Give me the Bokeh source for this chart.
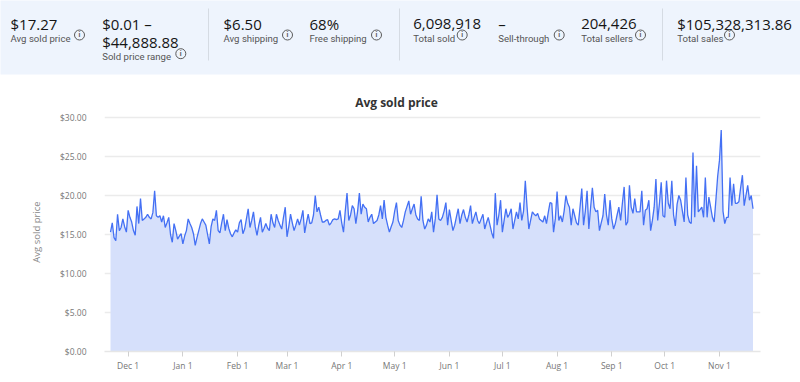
import pandas as pd
from bokeh.plotting import figure
from bokeh.models import ColumnDataSource, Range1d, FixedTicker, NumeralTickFormatter
from bokeh.layouts import column
from bokeh.embed import file_html
from bokeh.resources import INLINE
from bokeh.core.properties import value

# ---------------- data ----------------
start_date = "2022-11-21"

prices_nov_jan = [15.3, 16.5, 14.6, 14.2, 17.6, 15.5, 15.9, 17.0, 16.0, 15.3,
                  18.1, 17.2, 16.6, 15.5, 14.9, 18.6, 16.4, 19.6, 16.8, 17.0,
                  17.2, 17.6, 17.2, 17.0, 17.8, 20.6, 17.4, 17.2, 17.4, 16.6,
                  17.4, 15.9, 16.5, 17.2, 15.0, 14.0, 16.4, 15.5, 14.4, 14.8,
                  15.1, 13.8, 14.8, 15.5, 17.0, 16.4, 15.9, 15.1, 13.6, 14.6,
                  15.5, 16.4, 17.0, 16.6, 16.2, 15.0, 13.8, 16.0, 17.0, 16.8]
prices_jan_mar = [18.1, 15.5, 15.2, 16.5, 17.6, 15.5, 16.9, 15.8, 15.1, 14.7,
                  15.2, 15.6, 15.3, 16.5, 16.9, 15.1, 15.7, 17.0, 18.3, 15.9,
                  16.8, 17.9, 16.0, 14.9, 16.2, 17.2, 15.3, 15.8, 16.4, 15.8,
                  15.5, 17.6, 16.5, 15.9, 17.6, 16.8, 16.2, 15.7, 17.2, 18.5,
                  14.7, 16.0, 17.6, 16.5, 15.5, 16.2, 17.0, 16.2, 17.0, 18.1,
                  15.2, 16.5, 17.6, 16.4, 16.5, 17.5, 20.0, 17.9, 18.5, 17.5,
                  16.6]
prices_mar_may = [16.6, 16.8, 16.9, 16.2, 16.5, 16.9, 17.0, 16.9, 17.0, 18.1,
                  16.5, 15.3, 18.0, 20.3, 16.8, 17.5, 18.7, 18.3, 16.4, 18.0,
                  20.3, 17.6, 18.9, 18.5, 18.3, 16.6, 17.2, 17.6, 16.4, 16.6,
                  16.8, 17.5, 18.7, 17.0, 19.4, 17.2, 16.2, 15.3, 16.0, 16.6,
                  18.0, 19.1, 16.8, 16.2, 15.9, 16.8, 17.9, 18.6, 19.3, 17.6,
                  18.3, 18.9, 17.5, 17.0, 16.8, 19.9, 16.8, 15.7, 16.2, 17.0,
                  16.6]
prices_may_jul = [17.9, 15.3, 17.0, 20.1, 17.0, 16.8, 17.2, 18.0, 19.1, 16.2,
                  18.2, 16.8, 15.5, 16.2, 17.3, 18.3, 16.4, 17.5, 18.2, 17.2,
                  16.6, 17.5, 18.7, 16.4, 17.2, 17.9, 16.8, 16.4, 17.0, 17.6,
                  15.7, 16.5, 17.2, 16.2, 15.2, 14.5, 20.3, 16.2, 17.5, 19.4,
                  15.3, 16.8, 18.3, 17.2, 17.6, 18.3, 15.7, 16.8, 17.9, 17.0,
                  19.1, 16.8, 18.0, 21.9, 18.5, 15.7, 16.8, 17.9, 17.6, 17.4,
                  17.7]
prices_jul_sep = [17.0, 16.8, 16.6, 17.4, 16.4, 17.8, 19.1, 19.0, 15.3, 17.0,
                  20.5, 16.8, 17.4, 16.6, 18.0, 20.0, 19.0, 18.5, 16.2, 18.3,
                  17.4, 16.5, 16.2, 18.5, 20.9, 16.2, 18.0, 20.6, 15.7, 18.5,
                  21.0, 18.5, 17.9, 18.1, 15.5, 16.5, 17.4, 20.2, 17.5, 16.2,
                  19.4, 17.0, 15.7, 16.4, 17.5, 18.5, 16.8, 19.0, 21.1, 16.2,
                  16.6, 21.3, 18.5, 17.7, 19.6, 17.9, 17.9, 17.9, 20.6, 16.2,
                  18.1]
prices_sep_nov = [18.3, 19.4, 15.5, 16.8, 18.5, 22.1, 16.8, 19.0, 21.7, 17.4,
                  17.2, 21.9, 19.0, 18.3, 21.9, 17.5, 16.1, 18.9, 20.0, 19.4,
                  18.0, 16.6, 22.3, 17.5, 16.6, 16.4, 25.5, 17.2, 23.8, 17.9,
                  18.2, 18.5, 17.2, 22.3, 17.2, 19.8, 18.5, 17.2, 16.6, 19.5,
                  22.5, 24.5, 28.4, 18.0, 16.4, 17.2, 17.2, 22.3, 18.7, 21.5,
                  19.0, 19.0, 19.2, 21.0, 22.6, 18.7, 20.0, 21.3, 19.4, 20.0,
                  18.3]

month_tick_dates = ["2022-12-01", "2023-01-01", "2023-02-01", "2023-03-01", "2023-04-01",
                    "2023-05-01", "2023-06-01", "2023-07-01", "2023-08-01", "2023-09-01",
                    "2023-10-01", "2023-11-01"]
month_tick_labels = ["Dec 1", "Jan 1", "Feb 1", "Mar 1", "Apr 1", "May 1",
                     "Jun 1", "Jul 1", "Aug 1", "Sep 1", "Oct 1", "Nov 1"]
price_ticks = [0, 5, 10, 15, 20, 25, 30]

stat_value_lines = [["$17.27"], ["$0.01 –", "$44,888.88"], ["$6.50"], ["68%"],
                    ["6,098,918"], ["–"], ["204,426"], ["$105,328,313.86"]]
stat_labels = ["Avg sold price", "Sold price range", "Avg shipping", "Free shipping",
               "Total sold", "Sell-through", "Total sellers", "Total sales"]
chart_title = "Avg sold price"
y_axis_title = "Avg sold price"

# ---------------- layout (positions / styles) ----------------
W, H_HEAD, H_CHART = 800, 111, 271
col_x = [10, 101.7, 223, 309, 412.7, 497.7, 580.7, 676.7]
icon_x = [79, 180.3, 287, 376, 461.7, 558.7, 640, 729]
sep_x = [208, 399, 662]
VAL_FONT = value("Open Sans")
LAB_FONT = value("Roboto")

prices = (prices_nov_jan + prices_jan_mar + prices_mar_may +
          prices_may_jul + prices_jul_sep + prices_sep_nov)
t0 = pd.Timestamp(start_date)
days = list(range(len(prices)))
src = ColumnDataSource(dict(day=days, price=prices))
tick_days = [(pd.Timestamp(d) - t0).days for d in month_tick_dates]

# ---------------- header figure ----------------
h = figure(width=W, height=H_HEAD, x_range=Range1d(0, W), y_range=Range1d(H_HEAD, 0),
           x_axis_type=None, y_axis_type=None, output_backend="svg",
           toolbar_location=None, min_border=0, frame_align=False)
h.outline_line_color = None
h.grid.visible = False
h.quad(left=-10, right=W + 10, top=-2, bottom=74, fill_color="#eef4fd", line_color=None)
h.segment(x0=sep_x, y0=[8] * 3, x1=sep_x, y1=[60] * 3, line_color="#d5dbe3", line_width=1)

vx, vy, vt = [], [], []
lx, ly, lt = [], [], []
ix, iy = [], []
for i, lines in enumerate(stat_value_lines):
    for k, s in enumerate(lines):
        vx.append(col_x[i]); vy.append(23 + 18.7 * k); vt.append(s)
    base = 23 + 18.7 * (len(lines) - 1) + 14.7
    lx.append(col_x[i]); ly.append(base); lt.append(stat_labels[i])
    ix.append(icon_x[i]); iy.append(base - 3.2)

h.text(x=vx, y=vy, text=vt, text_font=VAL_FONT, text_font_size="15px", text_color="#151515",
       text_baseline="alphabetic", text_align="left")
h.text(x=lx, y=ly, text=lt, text_font=LAB_FONT, text_font_size="9.6px", text_color="#555555",
       text_baseline="alphabetic", text_align="left")
h.scatter(x=ix, y=iy, marker="circle", size=10, fill_color=None, line_color="#5a5a5a",
          line_width=1)
h.text(x=ix, y=[v + 0.4 for v in iy], text=["i"] * len(ix), text_font=LAB_FONT,
       text_font_size="7px", text_font_style="bold", text_color="#5a5a5a",
       text_baseline="middle", text_align="center")
h.text(x=[396], y=[102], text=[chart_title], text_font=VAL_FONT, text_font_size="12px",
       text_font_style="bold", text_color="#333333", text_baseline="alphabetic",
       text_align="center")

# ---------------- chart figure ----------------
p = figure(width=W, height=H_CHART, x_range=Range1d(-3.4, len(prices) - 1 + 4.25),
           y_range=Range1d(0, 30.64), output_backend="svg", toolbar_location=None,
           min_border_left=104, min_border_right=40, min_border_top=1, min_border_bottom=31,
           frame_align=False)
p.outline_line_color = None
p.varea(x="day", y1=0, y2="price", source=src, fill_color="#d6e0fb", fill_alpha=1)
p.line(x="day", y="price", source=src, line_color="#4470f4", line_width=1.3)

p.xgrid.grid_line_color = None
p.ygrid.ticker = FixedTicker(ticks=price_ticks)
p.ygrid.grid_line_color = "#ebebeb"
p.ygrid.grid_line_width = 1.5

ya = p.yaxis[0]
ya.ticker = FixedTicker(ticks=price_ticks)
ya.formatter = NumeralTickFormatter(format="$0.00")
ya.axis_line_color = None
ya.major_tick_line_color = None
ya.minor_tick_line_color = None
ya.major_label_standoff = 12
ya.major_label_text_font = "Open Sans"
ya.major_label_text_font_size = "8.5px"
ya.major_label_text_color = "#777777"
ya.axis_label = y_axis_title
ya.axis_label_text_font = "Open Sans"
ya.axis_label_text_font_size = "9.5px"
ya.axis_label_text_font_style = "normal"
ya.axis_label_text_color = "#888888"
ya.axis_label_standoff = 14

xa = p.xaxis[0]
xa.ticker = FixedTicker(ticks=tick_days)
xa.major_label_overrides = {d: lab for d, lab in zip(tick_days, month_tick_labels)}
xa.axis_line_color = "#e6e6e6"
xa.axis_line_width = 1.5
xa.major_tick_line_color = "#d0d0d0"
xa.major_tick_out = 5
xa.major_tick_in = 0
xa.minor_tick_line_color = None
xa.major_label_standoff = 3
xa.major_label_text_font = "Open Sans"
xa.major_label_text_font_size = "8.5px"
xa.major_label_text_color = "#777777"

layout = column(h, p, spacing=0)
open("out.html", "w").write(file_html(layout, INLINE))
